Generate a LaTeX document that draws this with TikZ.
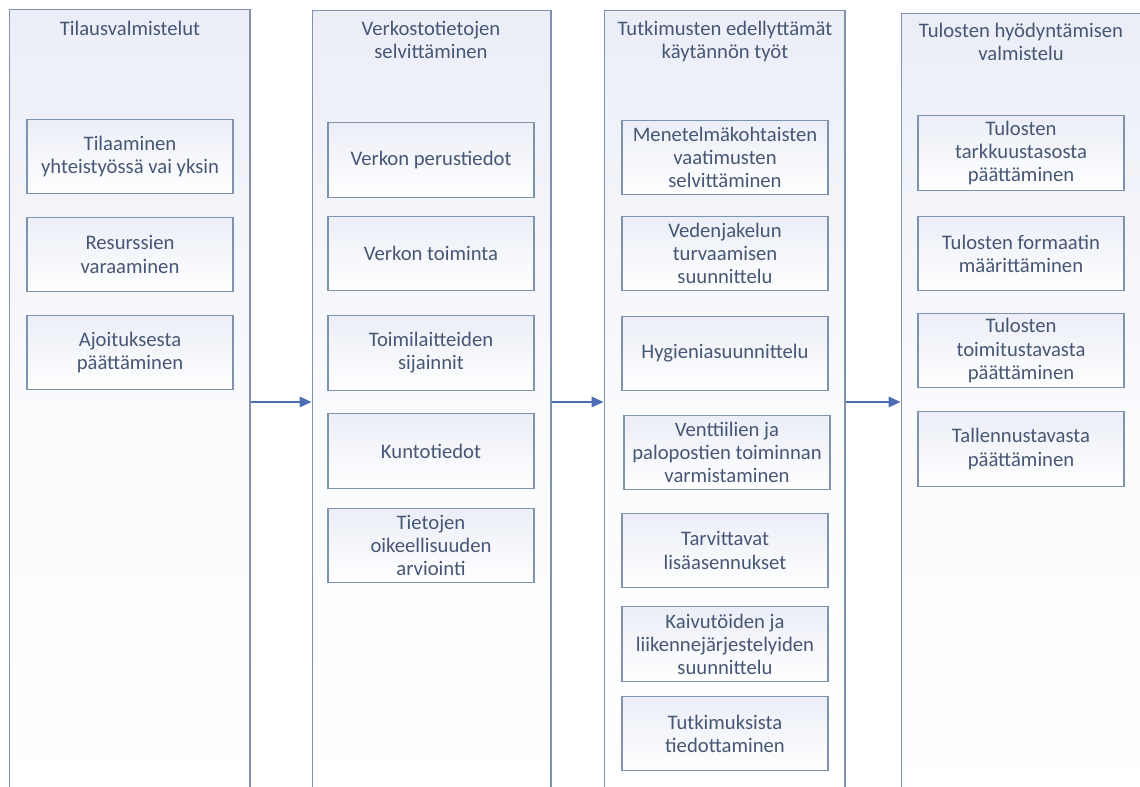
\documentclass[tikz,border=0pt]{standalone}
\usepackage{fontspec}
\setmainfont{Carlito}
\usepackage{tikz}
\usetikzlibrary{arrows.meta, positioning}

\definecolor{lineblue}{HTML}{8093AE}
\definecolor{textblue}{HTML}{465775}
\definecolor{tintblue}{HTML}{EBEEF7}
\definecolor{arrowblue}{HTML}{4A6FB5}

\begin{document}
\begin{tikzpicture}[
    x=0.75pt, y=-0.75pt,
    % --- STYLES ---
    lane/.style={draw=lineblue, line width=1pt, anchor=north, minimum width=180.5pt, minimum height=600pt,
        top color=tintblue, bottom color=white, middle color=white!75!tintblue, inner sep=0pt},
    lanetitle/.style={align=center, text=textblue, font=\fontsize{15.5}{17.3}\selectfont, anchor=north, inner sep=0pt},
    task/.style={draw=lineblue, line width=0.9pt, align=center, text=textblue, minimum width=154.5pt, minimum height=56pt,
        font=\fontsize{15.5}{17.3}\selectfont, top color=tintblue, bottom color=white, inner sep=1pt},
    flow/.style={-{Triangle[length=9pt, width=8pt]}, line width=0.9pt, draw=arrowblue!70!lineblue, color=arrowblue}
]
    \clip (0,0) rectangle (1140,787);
    \fill[white] (0,0) rectangle (1140,787);

    % ==========================================
    % LANES
    % ==========================================
    \node[lane] (lane1) at (129.5,9) {};
    \node[lane, minimum width=179pt] (lane2) at (431.5,10) {};
    \node[lane] (lane3) at (724.5,10) {};
    \node[lane] (lane4) at (1021.5,13) {};

    \node[lanetitle] (title1) at (130,21) {Tilausvalmistelut};
    \node[lanetitle] (title2) at (431,21) {Verkostotietojen\\selvittäminen};
    \node[lanetitle] (title3) at (725,21) {Tutkimusten edellyttämät\\käytännön työt};
    \node[lanetitle] (title4) at (1021,23) {Tulosten hyödyntämisen\\valmistelu};

    % ==========================================
    % TASKS
    % ==========================================
    % 1. Tilausvalmistelut
    \node[task] (order1) at (130,156.5) {Tilaaminen\\yhteistyössä vai yksin};
    \node[task] (order2) at (130,254.5) {Resurssien\\varaaminen};
    \node[task] (order3) at (130,352.5) {Ajoituksesta\\päättäminen};

    % 2. Verkostotiedot
    \node[task] (net1) at (431,160) {Verkon perustiedot};
    \node[task] (net2) at (431,253.5) {Verkon toiminta};
    \node[task] (net3) at (431,353) {Toimilaitteiden\\sijainnit};
    \node[task] (net4) at (431,451) {Kuntotiedot};
    \node[task] (net5) at (431,545.5) {Tietojen\\oikeellisuuden\\arviointi};

    % 3. Käytännön työt
    \node[task] (work1) at (725,157.5) {Menetelmäkohtaisten\\vaatimusten\\selvittäminen};
    \node[task] (work2) at (725,253.5) {Vedenjakelun\\turvaamisen\\suunnittelu};
    \node[task] (work3) at (725,353.5) {Hygieniasuunnittelu};
    \node[task] (work4) at (727,452.5) {Venttiilien ja\\palopostien toiminnan\\varmistaminen};
    \node[task] (work5) at (725,550.5) {Tarvittavat\\lisäasennukset};
    \node[task] (work6) at (725,644) {Kaivutöiden ja\\liikennejärjestelyiden\\suunnittelu};
    \node[task] (work7) at (725,733.5) {Tutkimuksista\\tiedottaminen};

    % 4. Tulosten hyödyntäminen
    \node[task] (use1) at (1021,153) {Tulosten\\tarkkuustasosta\\päättäminen};
    \node[task] (use2) at (1021,253.5) {Tulosten formaatin\\määrittäminen};
    \node[task] (use3) at (1021,350.5) {Tulosten\\toimitustavasta\\päättäminen};
    \node[task] (use4) at (1021,449) {Tallennustavasta\\päättäminen};

    % ==========================================
    % FLOW ARROWS
    % ==========================================
    \coordinate (flowline) at (0,402);
    \draw[flow] (lane1.east |- flowline) -- (lane2.west |- flowline);
    \draw[flow] (lane2.east |- flowline) -- (lane3.west |- flowline);
    \draw[flow] (lane3.east |- flowline) -- (lane4.west |- flowline);

\end{tikzpicture}
\end{document}
